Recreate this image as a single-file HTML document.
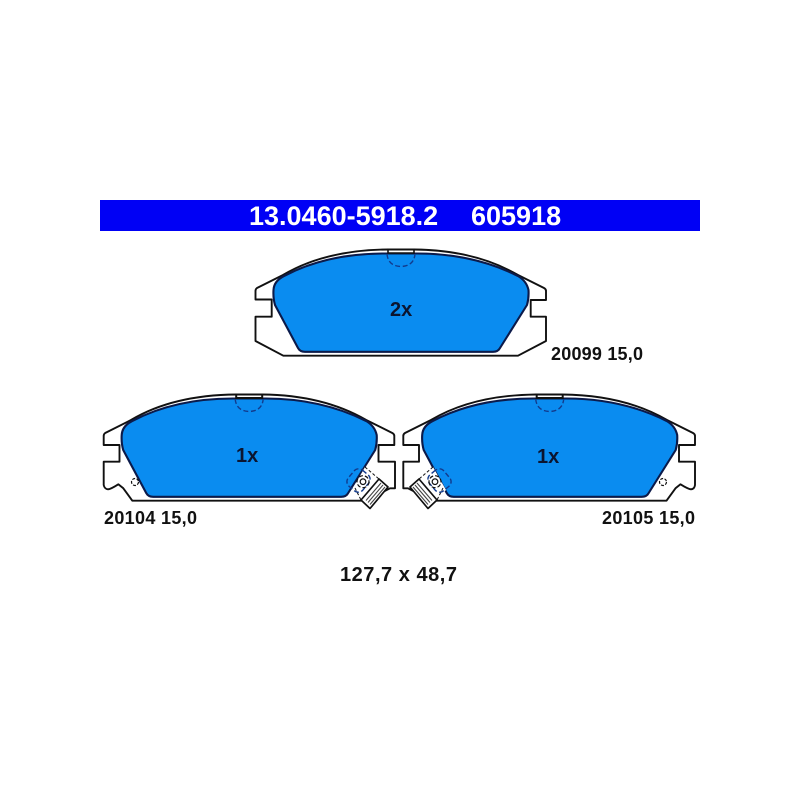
<!DOCTYPE html>
<html><head><meta charset="utf-8"><style>
html,body{margin:0;padding:0;background:#fff}
svg{display:block}
text{font-family:"Liberation Sans",sans-serif;font-weight:bold;fill:#111}
.o{fill:#fff;stroke:#111;stroke-width:1.9;stroke-linejoin:round}
.b{fill:#0a8cf0;stroke:#0b1a4a;stroke-width:2.1}
.d{fill:none;stroke:#123a8c;stroke-width:1.4;stroke-dasharray:5 2.5}
.l{fill:none;stroke:#111;stroke-width:1.2}
.bar{fill:none;stroke:#111;stroke-width:1.6}
</style></head><body>
<svg width="800" height="800" viewBox="0 0 800 800" xmlns="http://www.w3.org/2000/svg">
<rect width="800" height="800" fill="#fff"/>
<rect x="100" y="200" width="600" height="31" fill="#0000f5"/>
<text x="249" y="225" font-size="27" style="fill:#fff">13.0460-5918.2</text>
<text x="471" y="225" font-size="27" style="fill:#fff">605918</text>

<defs>
<path id="blue" class="b" d="M273.500 290 Q274 281 284 276 Q328 253 387 253.500 L415 253.500 Q472 253 518 276 Q526.500 281 528.500 290 Q529 298 527 305 L500 348 Q498 351.800 493 351.800 L305 351.800 Q300 351.800 298 348 L275 305 Q273 298 273.500 290 Z"/>
<path id="notch" class="d" d="M387 254 Q388 266 401 266.500 Q414 266 415 254"/>
<g id="clip">
 <path d="M365 467 L388 487 L370 508.500 L352 490 Z" fill="#fff"/>
 <path d="M365 467 L379 479 M355 488 L361 500" fill="none" stroke="#111" stroke-width="1" stroke-dasharray="3 2"/>
 <path d="M379 479 L388 487 L370 508.500 L361 500 Z" fill="#fff" stroke="#111" stroke-width="1.700" stroke-linejoin="round"/>
 <path d="M381 483 L366 500.500 M383 485 L368 502.500 M385 487 L370 504.500" stroke="#444" stroke-width="1.100"/>
 <rect class="d" x="349" y="470" width="19" height="21" rx="6" transform="rotate(40 358.500 480.500)"/>
 <circle class="l" cx="363" cy="481.700" r="6" stroke-dasharray="4 2"/>
 <circle class="l" cx="363" cy="481.700" r="2.800"/>
</g>
</defs>

<!-- top pad -->
<path class="o" d="M388 249.500 Q325 250 283 275 L257 288 Q255.500 289 255.500 291 L255.500 299.500 L271.700 299.500 L271.700 316.700 L255.500 316.700 L255.500 341 L283.300 355.700 L518 355.700 L546 341 L546 316.700 L530.700 316.700 L530.700 300 L546 300 L546 291 Q546 289 544 288 L518 275 Q475 250 414 249.500 Z"/>
<use href="#blue"/>
<path class="bar" d="M388 249.500 L388 253 L414 253 L414 249.500"/>
<use href="#notch"/>
<text x="390" y="316" font-size="20" style="fill:#0b1530">2x</text>

<!-- left pad -->
<path class="o" d="M236.200 394.500 Q173 395 131 420 L105.200 433 Q103.700 434 103.700 436 L103.700 445 L119.500 445 L119.500 461.700 L103.700 461.700 L103.700 485 Q104.500 489 108 489.300 Q111 489 118.300 484.300 L123.300 488.300 L132.300 500.700 L366 500.700 L390 488.300 L395 488.300 L395 461.700 L378.500 461.700 L378.500 445 L394.300 445 L394.300 436 Q394.300 434 392.300 433 L366.200 420 Q323 395 262.200 394.500 Z"/>
<g transform="translate(-151.800 145)"><use href="#blue"/><path class="bar" d="M388 249.500 L388 253 L414 253 L414 249.500" style="stroke-width:2"/><use href="#notch"/></g>
<circle class="l" cx="135" cy="482" r="3.500" stroke-dasharray="3 1.500"/>
<use href="#clip"/>
<text x="236" y="462" font-size="20" style="fill:#0b1530">1x</text>

<!-- right pad -->
<path class="o" d="M536 394.500 Q473 395 431 420 L405 433 Q403.300 434 403.300 436 L403.300 445 L419 445 L419 461.700 L403.300 461.700 L403.300 488.300 L408 488.300 L432 500.700 L666.500 500.700 L675.500 488.300 L680.500 484.300 Q688 489 691 489.300 Q694.500 489 695 485 L695 461.700 L679 461.700 L679 445 L695 445 L695 436 Q695 434 693 433 L667 420 Q624 395 562 394.500 Z"/>
<g transform="translate(148.700 145)"><use href="#blue"/><path class="bar" d="M388 249.500 L388 253 L414 253 L414 249.500" style="stroke-width:2"/><use href="#notch"/></g>
<circle class="l" cx="663" cy="482" r="3.500" stroke-dasharray="3 1.500"/>
<g transform="translate(798 0) scale(-1 1)"><use href="#clip"/></g>
<text x="537" y="463" font-size="20" style="fill:#0b1530">1x</text>

<text x="551" y="360" font-size="18" textLength="92" lengthAdjust="spacing">20099 15,0</text>
<text x="104" y="524" font-size="18" textLength="93" lengthAdjust="spacing">20104 15,0</text>
<text x="602" y="524" font-size="18" textLength="93" lengthAdjust="spacing">20105 15,0</text>
<text x="340" y="581" font-size="20" textLength="117" lengthAdjust="spacing">127,7 x 48,7</text>
</svg>
</body></html>
